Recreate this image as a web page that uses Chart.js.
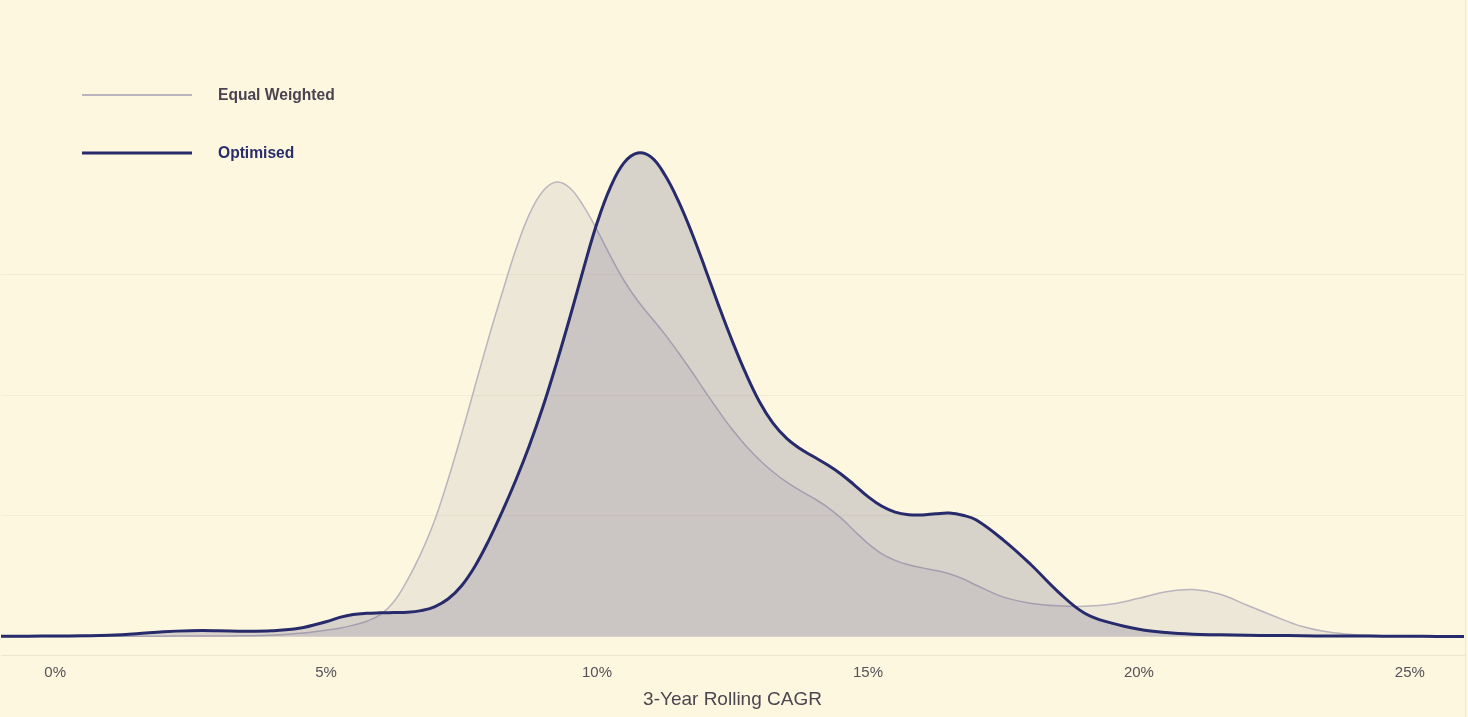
<!DOCTYPE html>
<html>
<head>
<meta charset="utf-8">
<script src="https://cdn.jsdelivr.net/npm/chart.js@4.4.1/dist/chart.umd.min.js"></script>
<style>
  html, body { margin: 0; padding: 0; background: #fdf7e0; }
  #wrap { width: 1465px; height: 717px; position: relative; border-right: 1px solid #efe8d1; }
</style>
</head>
<body>
<div id="wrap"><canvas id="densidadChart"></canvas></div>
<script>
// 3-year rolling CAGR (%) and the density
const cagr = [-1, -0.5, 0, 0.5, 1, 1.5, 2, 2.5, 3, 3.5, 4, 4.5,
  5, 5.25, 5.5, 5.75, 6, 6.25, 6.5, 6.75, 7, 7.25, 7.5, 7.75, 8, 8.25, 8.5, 8.75, 9, 9.25, 9.5, 9.75,
  10, 10.25, 10.5, 10.75, 11, 11.25, 11.5, 11.75, 12, 12.25, 12.5, 12.75, 13, 13.25, 13.5, 13.75,
  14, 14.25, 14.5, 14.75, 15, 15.25, 15.5, 15.75, 16, 16.25, 16.5, 16.75, 17,
  17.5, 18, 18.5, 19, 19.5, 20, 20.5, 21, 21.5, 22, 22.5, 23, 23.5, 24, 24.5, 25, 25.5, 26];

const equalWeighted = [0.0001, 0.0001, 0.0001, 0.0001, 0.0002, 0.0002, 0.0002, 0.0003, 0.0003, 0.0004, 0.0006, 0.0014,
  0.0027, 0.0035, 0.0048, 0.0064, 0.0091, 0.0145, 0.0234, 0.0345, 0.0480, 0.0650, 0.0839, 0.1039, 0.1237, 0.1424,
  0.1602, 0.1749, 0.1845, 0.1883, 0.1858, 0.1783, 0.1684, 0.1575, 0.1474, 0.1391, 0.1322, 0.1253, 0.1177, 0.1097,
  0.1014, 0.0933, 0.0857, 0.0790, 0.0732, 0.0682, 0.0640, 0.0605, 0.0573, 0.0537, 0.0492, 0.0438, 0.0386, 0.0344,
  0.0316, 0.0298, 0.0285, 0.0274, 0.0261, 0.0240, 0.0213,
  0.0164, 0.0139, 0.0128, 0.0126, 0.0135, 0.0159, 0.0186, 0.0195, 0.0176, 0.0130, 0.0085, 0.0043, 0.0019, 0.0008,
  0.0004, 0.0002, 0.0001, 0.0001];

const optimised = [0.0002, 0.0002, 0.0003, 0.0004, 0.0006, 0.0012, 0.0021, 0.0025, 0.0025, 0.0023, 0.0025, 0.0035,
  0.0062, 0.0080, 0.0092, 0.0097, 0.0099, 0.0100, 0.0101, 0.0108, 0.0124, 0.0156, 0.0211, 0.0293, 0.0398, 0.0518,
  0.0648, 0.0791, 0.0951, 0.1131, 0.1323, 0.1523, 0.1713, 0.1863, 0.1963, 0.2003, 0.1986, 0.1913, 0.1805, 0.1672,
  0.1522, 0.1368, 0.1222, 0.1088, 0.0972, 0.0883, 0.0821, 0.0778, 0.0745, 0.0712, 0.0674, 0.0628, 0.0580, 0.0541,
  0.0516, 0.0505, 0.0504, 0.0509, 0.0512, 0.0503, 0.0483,
  0.0400, 0.0300, 0.0188, 0.0097, 0.0056, 0.0031, 0.0017, 0.0010, 0.0008, 0.0006, 0.0005, 0.0004, 0.0003, 0.0003,
  0.0002, 0.0002, 0.0001, 0.0001];

const seriesLabels = ['Equal Weighted', 'Optimised'];
const xTicks = [0, 5, 10, 15, 20, 25];
const yGrid = [0.05, 0.10, 0.15];

// legend drawn inside the plot, top left
const leyendaInterna = {
    id: 'leyendaInterna',
    afterDraw(chart) {
        const ctx = chart.ctx;
        const filas = [95, 153];
        chart.data.datasets.forEach((ds, i) => {
            const y = filas[i];
            ctx.save();
            ctx.strokeStyle = ds.borderColor;
            ctx.lineWidth = ds.legendWidth;
            ctx.beginPath();
            ctx.moveTo(82, y);
            ctx.lineTo(192, y);
            ctx.stroke();
            ctx.fillStyle = ds.labelColor;
            ctx.font = 'bold 15.6px "Liberation Sans", Arial, sans-serif';
            ctx.textBaseline = 'middle';
            ctx.fillText(ds.label, 218, y + 1);
            ctx.restore();
        });
    }
};

const data = {
    datasets: [{
            label: seriesLabels[0],
            data: cagr.map((x, i) => ({ x: x, y: equalWeighted[i] })),
            borderColor: '#bab4bd',
            borderWidth: 1.5,
            backgroundColor: 'rgba(125, 115, 160, 0.12)',
            fill: 'origin',
            order: 1,
            legendWidth: 2.2,
            labelColor: '#4b4350'
        },
        {
            label: seriesLabels[1],
            data: cagr.map((x, i) => ({ x: x, y: optimised[i] })),
            borderColor: '#272a6b',
            borderWidth: 3,
            backgroundColor: 'rgba(92, 88, 128, 0.23)',
            fill: 'origin',
            order: 0,
            legendWidth: 3.2,
            labelColor: '#2a2d6b'
        }
    ]
};

const config = {
    type: 'line',
    data: data,
    options: {
        responsive: true,
        maintainAspectRatio: false,
        animation: false,
        layout: { padding: { top: 33, left: 1, right: 1, bottom: 2 } },
        elements: {
            point: { radius: 0 },
            line: { tension: 0.4 }
        },
        scales: {
            x: {
                type: 'linear',
                min: -1,
                max: 26,
                afterBuildTicks: function(scale) {
                    scale.ticks = xTicks.map(v => ({ value: v }));
                },
                grid: { display: false, drawTicks: false },
                border: { display: true, color: 'rgba(190, 170, 130, 0.22)' },
                ticks: {
                    padding: 9,
                    color: '#56515a',
                    font: { family: '"Liberation Sans", Arial, sans-serif', size: 15 },
                    callback: function(value) {
                        return value + '%';
                    }
                },
                title: {
                    display: true,
                    text: '3-Year Rolling CAGR',
                    color: '#4b4650',
                    font: { family: '"Liberation Sans", Arial, sans-serif', size: 19 },
                    padding: { top: -3, bottom: 4 }
                }
            },
            y: {
                type: 'linear',
                position: 'right',
                min: -0.00766,
                max: 0.25,
                afterBuildTicks: function(scale) {
                    scale.ticks = yGrid.map(v => ({ value: v }));
                },
                grid: { color: 'rgba(190, 170, 130, 0.14)', drawTicks: false },
                border: { display: false },
                ticks: { display: false }
            }
        },
        plugins: {
            legend: { display: false },
            tooltip: { enabled: false }
        }
    },
    plugins: [leyendaInterna]
};

window.onload = function() {
    const ctx = document.getElementById('densidadChart').getContext('2d');
    new Chart(ctx, config);
};
</script>
</body>
</html>
